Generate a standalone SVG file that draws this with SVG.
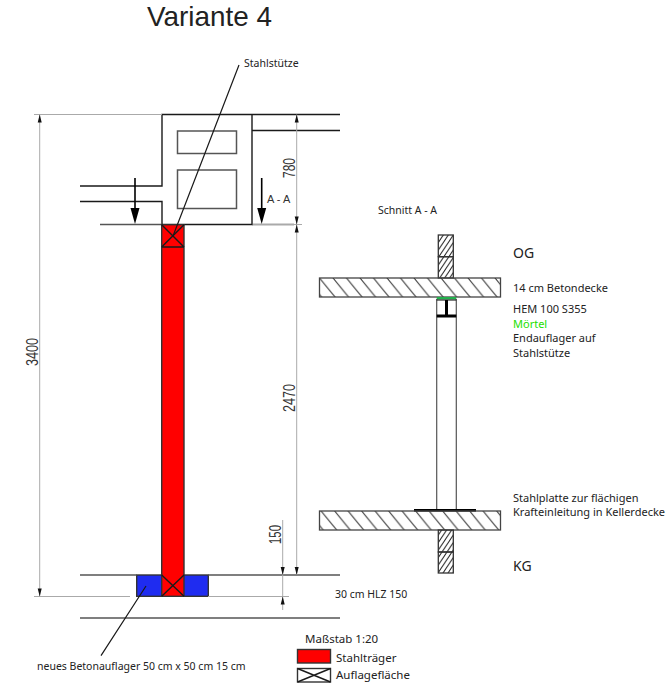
<svg xmlns="http://www.w3.org/2000/svg" width="666" height="684" viewBox="0 0 666 684">
<style>
text{font-family:"Noto Sans","Open Sans","Liberation Sans",sans-serif;font-size:10.5px;fill:#222}
.s{font-size:11px}
.lg{font-size:11.5px}
.big{font-size:14px}
.dim{font-family:"Liberation Sans",sans-serif;font-size:16px;fill:#333}
.l{fill:none;stroke:#1a1a1a;stroke-width:1.4}
.m{fill:none;stroke:#555;stroke-width:1.5}
.g{fill:none;stroke:#aaa;stroke-width:1}
</style>
<defs>
<pattern id="hs" width="13.5" height="16.5" patternUnits="userSpaceOnUse" patternTransform="translate(319.5 278)"><path d="M-3 -3.67L16.5 20.17M-16.5 -3.67L3 20.17M10.5 -3.67L30 20.17" stroke="#222" stroke-width="1" fill="none"/></pattern>
<pattern id="hw" width="5" height="7.5" patternUnits="userSpaceOnUse"><path d="M6 -1.5L-1 9M1 -1.5L-6 9M11 -1.5L4 9" stroke="#222" stroke-width="1" fill="none"/></pattern>
</defs>
<text x="147" y="26" style="font-family:'Liberation Sans',sans-serif;font-size:28px" textLength="125" lengthAdjust="spacingAndGlyphs">Variante 4</text>

<g id="upper-floor">
<path class="l" d="M340 114.5H162V186H80M80 201.5H162V224.5H252V114.5M252 130.5H340"/>
<rect class="m" x="177.5" y="131" width="59" height="22.5"/>
<rect class="m" x="177.5" y="170" width="59" height="38.5"/>
<path class="m" d="M100 224.5H162M252 224.5H294"/>
</g>

<g id="stahltraeger">
<rect x="136.7" y="575" width="71.6" height="21.3" fill="#1f2cf0" stroke="#333" stroke-width="1.4"/>
<rect x="161.7" y="224.7" width="22.3" height="371.6" fill="#f00" stroke="#333" stroke-width="1.4"/>
<path class="l" d="M161.7 224.7L184 247M184 224.7L161.7 247M161.7 247H184M161.7 575L184 596.3M184 575L161.7 596.3"/>
</g>

<g id="lower-floor">
<path class="m" d="M80 575H136.7M208.3 575H340M80 618H340"/>
</g>

<g id="connectors">
<path class="l" d="M239 65L173 236M146 586L101 655.7" style="stroke-width:1.2"/>
<path d="M135 178V210M261.7 178V210" stroke="#000" stroke-width="1.6" fill="none"/>
<path d="M135 224L130.5 208H139.5ZM261.7 224L257.2 208H266.2Z" fill="#000"/>
<path class="g" d="M34 114.5H162M34 596.5H130M208 596.5H289M253 224.5H302"/>
<path class="g" d="M39.7 114.5V596.5M296.7 114.5V575M282.7 520V610"/>
<path d="M39.7 114.5l-2 8h4zM39.7 596.5l-2-8h4zM296.7 114.5l-2 8h4zM296.7 224.5l-2-8h4zM296.7 224.5l-2 8h4zM296.7 575l-2-8h4zM282.7 575l-2-8h4zM282.7 596.5l-2 8h4z" fill="#111"/>
</g>

<g id="section">
<rect x="438.3" y="235" width="15" height="21.7" fill="url(#hw)" stroke="#333" stroke-width="1.3"/>
<rect x="438.3" y="256.7" width="15" height="21.3" fill="url(#hw)" stroke="#333" stroke-width="1.3"/>
<rect x="319.5" y="278" width="181" height="19" fill="url(#hs)" stroke="#444" stroke-width="1.3"/>
<rect x="436.7" y="297" width="19.6" height="2.4" fill="#22b14c"/>
<path d="M436.7 299V509M456.3 299V509" stroke="#555" stroke-width="1.2" fill="none"/>
<path d="M436.7 300H456.3" stroke="#000" fill="none"/>
<rect x="436.7" y="314.5" width="19.6" height="3" fill="#000"/>
<rect x="445" y="300" width="3" height="15" fill="#000"/>
<rect x="414" y="509" width="62" height="2.6" fill="#000"/>
<rect x="319.5" y="511" width="181" height="19" fill="url(#hs)" stroke="#444" stroke-width="1.3"/>
<rect x="438.3" y="530" width="15" height="22" fill="url(#hw)" stroke="#333" stroke-width="1.3"/>
<rect x="438.3" y="552" width="15" height="21" fill="url(#hw)" stroke="#333" stroke-width="1.3"/>
</g>

<g id="legend">
<rect x="297.5" y="649.5" width="33" height="13.5" fill="#f00" stroke="#333" stroke-width="1.4"/>
<rect x="297.5" y="668.5" width="33" height="13.5" fill="#fff" stroke="#333" stroke-width="1.4"/>
<path class="l" d="M297.5 668.5L330.5 682M330.5 668.5L297.5 682"/>
<text x="305" y="643" class="lg">Maßstab 1:20</text>
<text x="336" y="661.5" class="lg">Stahlträger</text>
<text x="336" y="679" class="lg">Auflagefläche</text>
</g>

<g id="labels">
<text x="244" y="67">Stahlstütze</text>
<text x="267" y="203" style="font-family:'Liberation Sans',sans-serif;font-size:11px;fill:#333">A - A</text>
<text class="dim" transform="translate(295 178) rotate(-90)" textLength="20" lengthAdjust="spacingAndGlyphs">780</text>
<text class="dim" transform="translate(38 366) rotate(-90)" textLength="28" lengthAdjust="spacingAndGlyphs">3400</text>
<text class="dim" transform="translate(295 412) rotate(-90)" textLength="28" lengthAdjust="spacingAndGlyphs">2470</text>
<text class="dim" transform="translate(281 544) rotate(-90)" textLength="19" lengthAdjust="spacingAndGlyphs">150</text>
<text x="378" y="214">Schnitt A - A</text>
<text x="513" y="258" class="big">OG</text>
<text x="513" y="292" class="s">14 cm Betondecke</text>
<text x="513" y="313" class="s">HEM 100 S355</text>
<text x="513" y="328" class="s" style="fill:#22e000">Mörtel</text>
<text x="513" y="342" class="s">Endauflager auf</text>
<text x="513" y="357" class="s">Stahlstütze</text>
<text x="513" y="501.5" class="s">Stahlplatte zur flächigen</text>
<text x="513" y="515.5" class="s">Krafteinleitung in Kellerdecke</text>
<text x="513" y="571" class="big">KG</text>
<text x="335" y="598">30 cm HLZ 150</text>
<text x="37" y="670">neues Betonauflager 50 cm x 50 cm 15 cm</text>
</g>
</svg>
